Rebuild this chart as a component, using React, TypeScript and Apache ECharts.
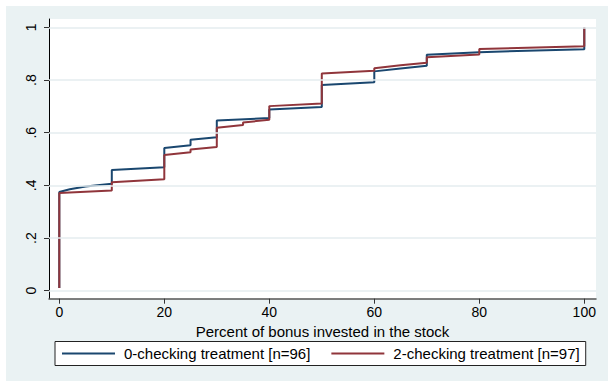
import React, { useEffect, useRef } from "react";
import * as echarts from "echarts";

// Empirical CDF vertices of the share of bonus invested in the stock, per treatment.
const controlX = [0, 0, 2, 5, 10, 10, 20, 20, 25, 25, 30, 30, 40, 40, 50, 50, 60, 60, 65, 70, 70, 80, 100, 100];
const controlY = [0.010, 0.375, 0.385, 0.396, 0.406, 0.458, 0.469, 0.542, 0.552, 0.573, 0.583, 0.646, 0.656, 0.688, 0.698, 0.781, 0.792, 0.833, 0.844, 0.854, 0.896, 0.906, 0.917, 1.0];

const treatX = [0, 0, 10, 10, 20, 20, 25, 25, 30, 30, 35, 35, 40, 40, 50, 50, 60, 60, 65, 70, 70, 80, 80, 100, 100];
const treatY = [0.010, 0.371, 0.381, 0.412, 0.423, 0.515, 0.526, 0.536, 0.546, 0.619, 0.629, 0.639, 0.649, 0.701, 0.711, 0.825, 0.835, 0.845, 0.856, 0.866, 0.887, 0.897, 0.918, 0.928, 1.0];

const seriesNames = ["0-checking treatment [n=96]", "2-checking treatment [n=97]"];
const xTicks = [0, 20, 40, 60, 80, 100];
const yTicks = [0, 0.2, 0.4, 0.6, 0.8, 1];
const xTitle = "Percent of bonus invested in the stock";

const NAVY = "#1a476f";
const MAROON = "#90353b";
const BG = "#eaf2f3";
const FONT = "'Liberation Sans', Arial, Helvetica, sans-serif";

const zip = (xs: number[], ys: number[]) => xs.map((x, i) => [x, ys[i]]);

const fmtY = (v: number) => {
  if (Math.abs(v) < 1e-9) return "0";
  if (Math.abs(v - 1) < 1e-9) return "1";
  return "." + Math.round(v * 10);
};

export default function App() {
  const ref = useRef<HTMLDivElement>(null);

  useEffect(() => {
    if (!ref.current) return;
    const chart = echarts.init(ref.current, undefined, { renderer: "svg" });
    chart.setOption({
      animation: false,
      backgroundColor: "#ffffff",
      textStyle: { fontFamily: FONT },
      graphic: [
        {
          type: "rect",
          z: -10,
          silent: true,
          shape: { x: 6, y: 6, width: 602, height: 375 },
          style: { fill: BG },
        },
      ],
      grid: {
        left: 49,
        right: 12,
        top: 19,
        bottom: 82.3,
        show: true,
        backgroundColor: "#ffffff",
        borderWidth: 0,
      },
      legend: {
        left: 55,
        top: 341.5,
        padding: [4, 6, 4, 7],
        itemGap: 21,
        itemWidth: 53,
        itemHeight: 2,
        icon: "rect",
        borderColor: "#222",
        borderWidth: 1,
        borderRadius: 0,
        backgroundColor: "#ffffff",
        data: seriesNames,
        textStyle: {
          color: "#000",
          fontSize: 15,
          lineHeight: 16,
          fontFamily: FONT,
          padding: [0, 0, 0, 4],
        },
      },
      xAxis: {
        type: "value",
        min: -1.962,
        max: 102.23,
        name: xTitle,
        nameLocation: "middle",
        nameGap: 20,
        nameTextStyle: { color: "#000", fontSize: 15, fontFamily: FONT },
        axisLine: { show: true, onZero: false, lineStyle: { color: "#555", width: 1.5 } },
        axisTick: { show: true, length: 5, customValues: xTicks, lineStyle: { color: "#333" } },
        axisLabel: {
          customValues: xTicks,
          color: "#000",
          fontSize: 14,
          fontFamily: FONT,
          margin: 6,
        },
        splitLine: { show: false },
      },
      yAxis: {
        type: "value",
        min: -0.0304,
        max: 1.0319,
        axisLine: { show: true, onZero: false, lineStyle: { color: "#000", width: 1 } },
        axisTick: { show: true, length: 5, customValues: yTicks, lineStyle: { color: "#333" } },
        axisLabel: {
          customValues: yTicks,
          rotate: 90,
          color: "#000",
          fontSize: 14,
          fontFamily: FONT,
          margin: 11,
          formatter: fmtY,
        },
        splitLine: { show: false },
      },
      series: [
        {
          name: "gridlines",
          type: "line",
          data: [],
          z: 1,
          silent: true,
          markLine: {
            silent: true,
            symbol: "none",
            label: { show: false },
            lineStyle: { type: "solid", color: "#e4edef", width: 1.5 },
            data: yTicks.map((v) => ({ yAxis: v })),
          },
        },
        {
          name: seriesNames[0],
          type: "line",
          z: 2,
          showSymbol: false,
          symbol: "none",
          lineStyle: { color: NAVY, width: 2 },
          itemStyle: { color: NAVY },
          data: zip(controlX, controlY),
        },
        {
          name: seriesNames[1],
          type: "line",
          z: 3,
          showSymbol: false,
          symbol: "none",
          lineStyle: { color: MAROON, width: 2 },
          itemStyle: { color: MAROON },
          data: zip(treatX, treatY),
        },
      ],
    });
    return () => chart.dispose();
  }, []);

  return (
    <div
      ref={ref}
      style={{ position: "fixed", left: 0, top: 0, width: 608, height: 381 }}
    />
  );
}
